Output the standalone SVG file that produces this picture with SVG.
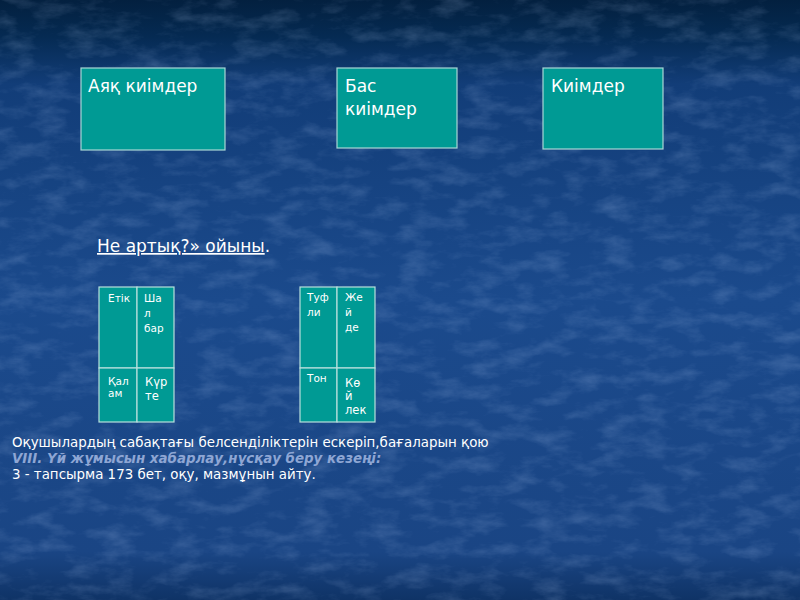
<svg xmlns="http://www.w3.org/2000/svg" width="800" height="600" viewBox="0 0 800 600">
<defs>
<linearGradient id="bg" x1="0" y1="0" x2="0" y2="1">
<stop offset="0" stop-color="#03203f"/>
<stop offset="0.06" stop-color="#052a52"/>
<stop offset="0.14" stop-color="#123d78"/>
<stop offset="0.5" stop-color="#1b4a8c"/>
<stop offset="0.92" stop-color="#1a4584"/>
<stop offset="1" stop-color="#0f3366"/>
</linearGradient>
<filter id="tex" x="0" y="0" width="100%" height="100%">
<feTurbulence type="fractalNoise" baseFrequency="0.03 0.07" numOctaves="5" seed="7"/>
<feColorMatrix type="matrix" values="0 0 0 0 0.55  0 0 0 0 0.7  0 0 0 0 1  0 0 0 1.4 -0.62"/>
</filter>
<style>
.box{fill:#009a94;stroke:#a8d8d6;stroke-width:1.2}
.cell{fill:#009a94;stroke:#b8e0dc;stroke-width:1.2}
.t{font-family:"DejaVu Sans","Liberation Sans",sans-serif;fill:#ffffff}
.big{font-size:17px}
.sm{font-size:10.5px}
.md{font-size:11.5px}
.body{font-size:13.4px}
.conn{fill:none}
</style>
</defs>
<rect width="800" height="600" fill="url(#bg)"/>
<rect width="800" height="600" filter="url(#tex)" opacity="0.28"/>

<g id="connectors" class="conn"></g>

<g id="node-ayaq">
<rect class="box" x="81" y="68" width="144" height="82"/>
<text class="t big" x="88" y="92">Аяқ киімдер</text>
</g>
<g id="node-bas">
<rect class="box" x="337" y="68" width="120" height="80"/>
<text class="t big" x="345" y="92">Бас</text>
<text class="t big" x="345" y="115">киімдер</text>
</g>
<g id="node-kiimder">
<rect class="box" x="543" y="68" width="120" height="81"/>
<text class="t big" x="551" y="92">Киімдер</text>
</g>

<g id="heading">
<text class="t big" x="97" y="252"><tspan text-decoration="underline">Не артық?» ойыны</tspan>.</text>
</g>

<g id="table1">
<rect class="cell" x="99" y="287" width="38" height="81"/>
<rect class="cell" x="137" y="287" width="37" height="81"/>
<rect class="cell" x="99" y="368" width="38" height="54"/>
<rect class="cell" x="137" y="368" width="37" height="54"/>
<text class="t sm" x="108" y="302">Етік</text>
<text class="t sm" x="144" y="302">Ша</text>
<text class="t sm" x="144" y="317">л</text>
<text class="t sm" x="144" y="332">бар</text>
<text class="t sm" x="108" y="385">Қал</text>
<text class="t sm" x="108" y="397">ам</text>
<text class="t md" x="145" y="386">Күр</text>
<text class="t md" x="145" y="400">те</text>
</g>

<g id="table2">
<rect class="cell" x="300" y="287" width="37" height="81"/>
<rect class="cell" x="337" y="287" width="38" height="81"/>
<rect class="cell" x="300" y="368" width="37" height="54"/>
<rect class="cell" x="337" y="368" width="38" height="54"/>
<text class="t sm" x="307" y="301">Туф</text>
<text class="t sm" x="307" y="316">ли</text>
<text class="t sm" x="345" y="301">Же</text>
<text class="t sm" x="345" y="316">й</text>
<text class="t sm" x="345" y="331">де</text>
<text class="t sm" x="307" y="382">Тон</text>
<text class="t md" x="345" y="387">Кө</text>
<text class="t md" x="345" y="400">й</text>
<text class="t md" x="345" y="414">лек</text>
</g>

<g id="bottom-text">
<text class="t body" x="12" y="447">Оқушылардың сабақтағы белсенділіктерін ескеріп,бағаларын қою</text>
<text class="t body" x="12" y="463" style="fill:#8ea6d4;font-style:italic;font-weight:bold">VIII. Үй жұмысын хабарлау,нұсқау беру кезеңі:</text>
<text class="t body" x="12" y="479">3 - тапсырма 173 бет, оқу, мазмұнын айту.</text>
</g>
</svg>
